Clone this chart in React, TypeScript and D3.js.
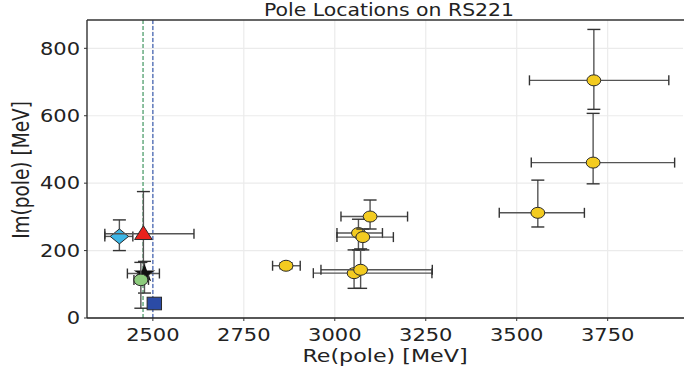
import React from "react";
import * as d3 from "d3";

// ---- data ----
const yellowRe = [3712, 3710, 3558, 3097, 3065, 3077, 3053, 3071, 2866];
const yellowIm = [705, 461, 312, 301, 252, 240, 133, 143, 155];
const yellowReLo = [3535, 3540, 3452, 3017, 3006, 3006, 2941, 2962, 2829];
const yellowReHi = [3918, 3934, 3686, 3200, 3131, 3161, 3267, 3268, 2905];
const yellowImLo = [619, 398, 270, 264, 202, 202, 88, 88, 146];
const yellowImHi = [856, 607, 409, 350, 293, 264, 202, 205, 164];

const otherNames = ["diamond", "triangle", "star", "circle", "square"];
const otherRe = [2408, 2474, 2477, 2467, 2504];
const otherIm = [242, 250, 132, 113, 43];
const otherReLo = [2368, 2368, 2430, 2448, 2504];
const otherReHi = [2445, 2613, 2518, 2488, 2504];
const otherImLo = [200, 130, 74, 29, 43];
const otherImHi = [291, 375, 168, 165, 43];
const otherColors = ["#3cb6e6", "#e8221c", "#111111", "#8ccb7c", "#2b4ba6"];

const thresholds = [2473, 2500];
const thresholdColors = ["#4f9e6c", "#4a68b4"];

const xTicks = [2500, 2750, 3000, 3250, 3500, 3750];
const yTicks = [0, 200, 400, 600, 800];

const W = 684;
const H = 368;
const L = 87;
const R = 683;
const T = 20;
const B = 318;
const SX = 1.2;
const FONT = "DejaVu Sans, sans-serif";

const x = d3.scaleLinear().domain([2319, 3957]).range([L, R]);
const y = d3.scaleLinear().domain([0, 884]).range([B, T]);

function ErrBar({ cx, cy, xl, xh, yl, yh }: any) {
  const col = "#555555";
  const els: any[] = [];
  if (xh - xl > 0.5) {
    els.push(<line key="h" x1={xl} x2={xh} y1={cy} y2={cy} stroke={col} strokeWidth={1.4} />);
    els.push(<line key="hl" x1={xl} x2={xl} y1={cy - 5} y2={cy + 5} stroke="#333" strokeWidth={1.4} />);
    els.push(<line key="hh" x1={xh} x2={xh} y1={cy - 5} y2={cy + 5} stroke="#333" strokeWidth={1.4} />);
  }
  if (yl - yh > 0.5) {
    els.push(<line key="v" x1={cx} x2={cx} y1={yl} y2={yh} stroke={col} strokeWidth={1.4} />);
    els.push(<line key="vl" x1={cx - 6.5} x2={cx + 6.5} y1={yl} y2={yl} stroke="#333" strokeWidth={1.4} />);
    els.push(<line key="vh" x1={cx - 6.5} x2={cx + 6.5} y1={yh} y2={yh} stroke="#333" strokeWidth={1.4} />);
  }
  return <g>{els}</g>;
}

function Marker({ kind, cx, cy, color }: any) {
  const st = { fill: color, stroke: "#2a2a2a", strokeWidth: 1 };
  if (kind === "ellipse") return <ellipse cx={cx} cy={cy} rx={6.9} ry={5.5} {...st} />;
  if (kind === "circle") return <ellipse cx={cx} cy={cy} rx={7} ry={5.8} {...st} />;
  if (kind === "diamond")
    return <path d={`M${cx - 9.2},${cy} L${cx},${cy - 7.5} L${cx + 9.2},${cy} L${cx},${cy + 7.5} Z`} {...st} />;
  if (kind === "triangle")
    return <path d={`M${cx},${cy - 8} L${cx + 8.8},${cy + 5.8} L${cx - 8.8},${cy + 5.8} Z`} {...st} />;
  if (kind === "square") return <rect x={cx - 7.2} y={cy - 6.3} width={14.4} height={12.6} {...st} />;
  if (kind === "star") {
    const p = d3.symbol().type(d3.symbolStar).size(70)() as string;
    return <path d={p} transform={`translate(${cx},${cy}) scale(${SX},1)`} fill={color} stroke="#111" strokeWidth={1} />;
  }
  return null;
}

function T_({ x: tx, y: ty, size, anchor, children, rotate }: any) {
  return (
    <text
      transform={`translate(${tx},${ty}) scale(${SX},1)${rotate ? " rotate(-90)" : ""}`}
      fontSize={size}
      fontFamily={FONT}
      textAnchor={anchor || "middle"}
      fill="#222"
    >
      {children}
    </text>
  );
}

export default function App() {
  return (
    <svg width={W} height={H} style={{ position: "absolute", left: 0, top: 0, background: "#fff" }}>
      <rect x={0} y={0} width={W} height={H} fill="#fff" />
      {/* grid */}
      {xTicks.map((t) => (
        <line key={"gx" + t} x1={x(t)} x2={x(t)} y1={T} y2={B} stroke="#ebebeb" strokeWidth={1.2} />
      ))}
      {yTicks.map((t) => (
        <line key={"gy" + t} x1={L} x2={R} y1={y(t)} y2={y(t)} stroke="#ebebeb" strokeWidth={1.2} />
      ))}
      {/* threshold lines */}
      {thresholds.map((t, i) => (
        <line key={"th" + i} x1={x(t)} x2={x(t)} y1={T} y2={B} stroke={thresholdColors[i]} strokeWidth={1.3} strokeDasharray="4,2" />
      ))}
      {/* yellow series */}
      {yellowRe.map((v, i) => (
        <g key={"y" + i}>
          <ErrBar cx={x(v)} cy={y(yellowIm[i])} xl={x(yellowReLo[i])} xh={x(yellowReHi[i])} yl={y(yellowImLo[i])} yh={y(yellowImHi[i])} />
          <Marker kind="ellipse" cx={x(v)} cy={y(yellowIm[i])} color="#f3cb20" />
        </g>
      ))}
      {/* other series */}
      {otherRe.map((v, i) => (
        <g key={"o" + i}>
          <ErrBar cx={x(v)} cy={y(otherIm[i])} xl={x(otherReLo[i])} xh={x(otherReHi[i])} yl={y(otherImLo[i])} yh={y(otherImHi[i])} />
          <Marker kind={otherNames[i]} cx={x(v)} cy={y(otherIm[i])} color={otherColors[i]} />
        </g>
      ))}
      {/* spines */}
      <line x1={L} x2={L} y1={T} y2={B} stroke="#222" strokeWidth={1.3} />
      <line x1={L} x2={R + 1} y1={B} y2={B} stroke="#222" strokeWidth={1.3} />
      <line x1={L} x2={R + 1} y1={T} y2={T} stroke="#333" strokeWidth={1.3} />
      {/* ticks */}
      {yTicks.map((t) => (
        <g key={"ty" + t}>
          <line x1={L - 3} x2={L} y1={y(t)} y2={y(t)} stroke="#333" strokeWidth={1} />
          <T_ x={80} y={y(t) + 6.3} size={17.5} anchor="end">{t}</T_>
        </g>
      ))}
      {xTicks.map((t) => (
        <g key={"tx" + t}>
          <line x1={x(t)} x2={x(t)} y1={B} y2={B + 3} stroke="#333" strokeWidth={1} />
          <T_ x={x(t)} y={341} size={17.5}>{t}</T_>
        </g>
      ))}
      <T_ x={(L + R) / 2} y={362} size={18.5}>Re(pole) [MeV]</T_>
      <T_ x={29} y={170} size={18.5} rotate>Im(pole) [MeV]</T_>
      <T_ x={(L + R) / 2 + 4} y={15.5} size={17}>Pole Locations on RS221</T_>
    </svg>
  );
}
